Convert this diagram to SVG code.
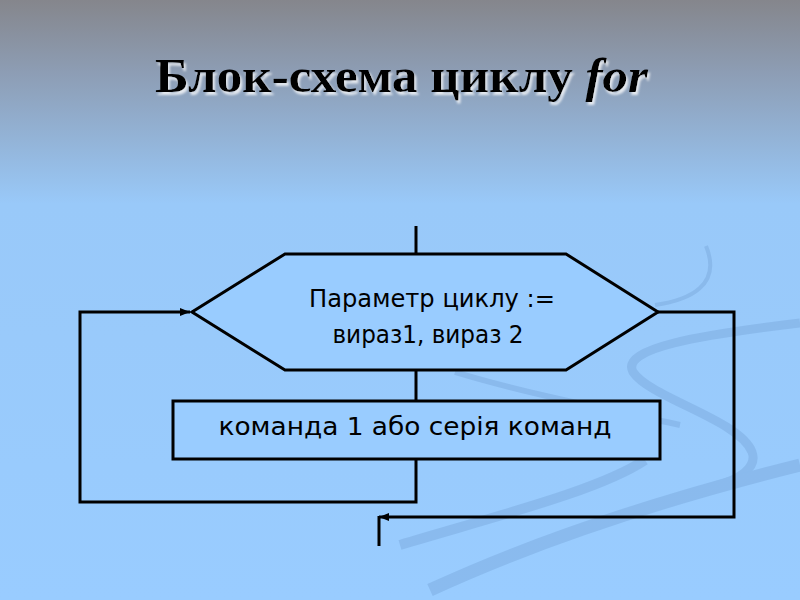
<svg xmlns="http://www.w3.org/2000/svg" width="800" height="600" viewBox="0 0 800 600">
<defs>
<linearGradient id="bg" x1="0" y1="0" x2="0" y2="1">
<stop offset="0" stop-color="#85868c"/>
<stop offset="0.12" stop-color="#8d9db4"/>
<stop offset="0.34" stop-color="#99c9f9"/>
<stop offset="1" stop-color="#99ccff"/>
</linearGradient>
<marker id="arr" viewBox="0 0 10 10" refX="10" refY="5" markerWidth="10" markerHeight="10" markerUnits="userSpaceOnUse" orient="auto">
<path d="M0,1 L10,5 L0,9 z" fill="#000"/>
</marker>
<filter id="sh" x="-5%" y="-20%" width="110%" height="150%">
<feOffset in="SourceAlpha" dx="2" dy="3" result="o"/>
<feGaussianBlur in="o" stdDeviation="0.8" result="b"/>
<feFlood flood-color="#ffffff" flood-opacity="0.75"/>
<feComposite in2="b" operator="in" result="s"/>
<feMerge><feMergeNode in="s"/><feMergeNode in="SourceGraphic"/></feMerge>
</filter>
</defs>
<style>
.ln{fill:none;stroke:#000;stroke-width:3}
.shape{fill:#99ccff;stroke:#000;stroke-width:3}
.lbl{font-family:"DejaVu Sans","Liberation Sans",sans-serif;font-size:25px;fill:#000;text-anchor:middle}
.ttl{font-family:"Liberation Serif","DejaVu Serif",serif;font-size:49px;font-weight:bold;fill:#000}
.sw{fill:none;stroke:#6f9dd2;stroke-linecap:butt}
</style>
<rect x="0" y="0" width="800" height="600" fill="url(#bg)"/>
<g id="swooshes" opacity="0.35">
<path class="sw" stroke-width="4" d="M655,305 C690,300 722,285 706,246"/>
<path class="sw" stroke-width="9" d="M800,323 C700,335 620,348 633,372 C650,398 740,420 752,452 C758,468 738,480 715,486"/>
<path class="sw" stroke-width="6" d="M455,372 C520,392 600,408 680,425"/>
<path class="sw" stroke-width="10" d="M645,460 C600,490 500,515 400,545"/>
<path class="sw" stroke-width="13" stroke="#6595cc" d="M800,465 C700,490 560,530 430,590"/>
</g>
<g id="title" filter="url(#sh)">
<text class="ttl" x="155" y="92" textLength="493" lengthAdjust="spacingAndGlyphs">Блок-схема циклу <tspan font-style="italic">for</tspan></text>
</g>
<g id="connectors">
<line class="ln" x1="416" y1="226" x2="416" y2="254"/>
<line class="ln" x1="416" y1="370" x2="416" y2="400"/>
<polyline class="ln" points="416,459 416,502 80,502 80,312 190,312" marker-end="url(#arr)"/>
<polyline class="ln" points="658,312 734,312 734,517 379,517" marker-end="url(#arr)"/>
<line class="ln" x1="379" y1="516" x2="379" y2="546"/>
</g>
<g id="loop-header">
<polygon class="shape" points="285,254 566,254 658,312 566,370 285,370 192,312"/>
<text class="lbl" x="432" y="307" textLength="246" lengthAdjust="spacingAndGlyphs">Параметр циклу :=</text>
<text class="lbl" x="428" y="343" textLength="191" lengthAdjust="spacingAndGlyphs">вираз1, вираз 2</text>
</g>
<g id="body">
<rect class="shape" x="173" y="401" width="487" height="58"/>
<text class="lbl" x="415" y="435" font-size="26" textLength="393" lengthAdjust="spacingAndGlyphs">команда 1 або серія команд</text>
</g>
</svg>
